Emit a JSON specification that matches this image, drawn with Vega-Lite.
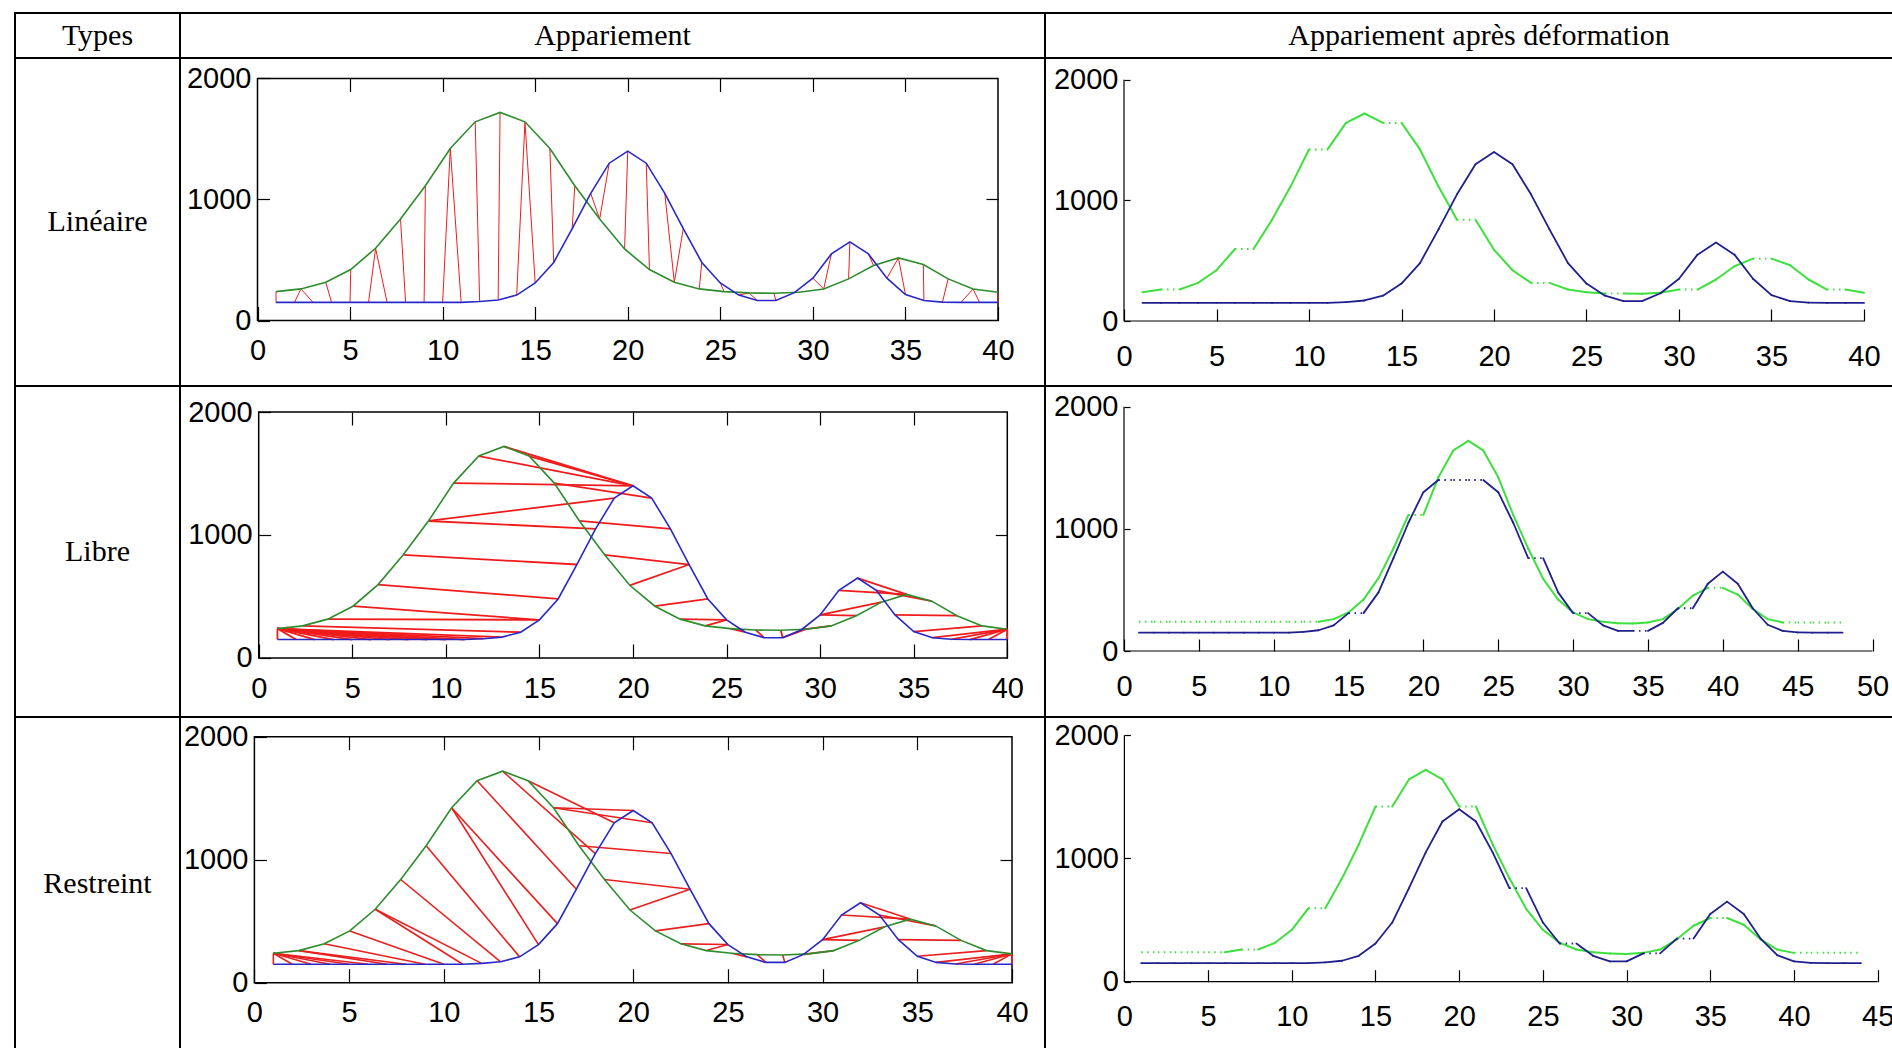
{
  "$schema": "https://vega.github.io/schema/vega-lite/v6.json",
  "padding": {"left": 14, "top": 12, "right": 0, "bottom": 0},
  "bounds": "flush",
  "spacing": 0,
  "columns": 3,
  "config": {
    "view": {"stroke": "black", "strokeWidth": 2},
    "axis": {
      "domain": false,
      "grid": false,
      "tickColor": "black",
      "tickWidth": 1.2,
      "labelFont": "Liberation Sans, Arial, sans-serif",
      "labelFontSize": 29,
      "labelColor": "black",
      "labelOverlap": false,
      "labelFlush": false,
      "labelBound": false
    },
    "text": {"font": "Liberation Serif, Times New Roman, serif", "fontSize": 30, "color": "black"}
  },
  "datasets": {
    "ref": [
      {"g": 1, "x": 1.0, "v": 239}, {"g": 2, "x": 2.345, "v": 261}, {"g": 3, "x": 3.69, "v": 316},
      {"g": 4, "x": 5.034, "v": 421}, {"g": 5, "x": 6.379, "v": 597}, {"g": 6, "x": 7.724, "v": 839},
      {"g": 7, "x": 9.069, "v": 1114}, {"g": 8, "x": 10.414, "v": 1422}, {"g": 9, "x": 11.759, "v": 1642},
      {"g": 10, "x": 13.103, "v": 1720}, {"g": 11, "x": 14.448, "v": 1642}, {"g": 12, "x": 15.793, "v": 1422},
      {"g": 13, "x": 17.138, "v": 1114}, {"g": 14, "x": 18.483, "v": 839}, {"g": 15, "x": 19.828, "v": 591},
      {"g": 16, "x": 21.172, "v": 421}, {"g": 17, "x": 22.517, "v": 316}, {"g": 18, "x": 23.862, "v": 261},
      {"g": 19, "x": 25.207, "v": 239}, {"g": 20, "x": 26.552, "v": 228}, {"g": 21, "x": 27.897, "v": 225},
      {"g": 22, "x": 29.241, "v": 234}, {"g": 23, "x": 30.586, "v": 261}, {"g": 24, "x": 31.931, "v": 344},
      {"g": 25, "x": 33.276, "v": 454}, {"g": 26, "x": 34.621, "v": 517}, {"g": 27, "x": 35.966, "v": 462},
      {"g": 28, "x": 37.31, "v": 344}, {"g": 29, "x": 38.655, "v": 261}, {"g": 30, "x": 40.0, "v": 234}
    ],
    "qry": [
      {"q": 1, "v": 150}, {"q": 2, "v": 150}, {"q": 3, "v": 150}, {"q": 4, "v": 150},
      {"q": 5, "v": 150}, {"q": 6, "v": 150}, {"q": 7, "v": 150}, {"q": 8, "v": 150},
      {"q": 9, "v": 150}, {"q": 10, "v": 150}, {"q": 11, "v": 150}, {"q": 12, "v": 157},
      {"q": 13, "v": 170}, {"q": 14, "v": 210}, {"q": 15, "v": 310}, {"q": 16, "v": 480},
      {"q": 17, "v": 760}, {"q": 18, "v": 1050}, {"q": 19, "v": 1300}, {"q": 20, "v": 1400},
      {"q": 21, "v": 1300}, {"q": 22, "v": 1050}, {"q": 23, "v": 760}, {"q": 24, "v": 480},
      {"q": 25, "v": 310}, {"q": 26, "v": 210}, {"q": 27, "v": 165}, {"q": 28, "v": 165},
      {"q": 29, "v": 230}, {"q": 30, "v": 350}, {"q": 31, "v": 550}, {"q": 32, "v": 650},
      {"q": 33, "v": 550}, {"q": 34, "v": 350}, {"q": 35, "v": 215}, {"q": 36, "v": 165},
      {"q": 37, "v": 152}, {"q": 38, "v": 150}, {"q": 39, "v": 150}, {"q": 40, "v": 150}
    ],
    "paths": [
      {"m": "lin", "k": 1, "g": 1, "q": 1, "gx": 1.0, "gv": 239, "qv": 150},
      {"m": "lin", "k": 2, "g": 2, "q": 2, "gx": 2.345, "gv": 261, "qv": 150},
      {"m": "lin", "k": 3, "g": 2, "q": 3, "gx": 2.345, "gv": 261, "qv": 150},
      {"m": "lin", "k": 4, "g": 3, "q": 4, "gx": 3.69, "gv": 316, "qv": 150},
      {"m": "lin", "k": 5, "g": 4, "q": 5, "gx": 5.034, "gv": 421, "qv": 150},
      {"m": "lin", "k": 6, "g": 5, "q": 6, "gx": 6.379, "gv": 597, "qv": 150},
      {"m": "lin", "k": 7, "g": 5, "q": 7, "gx": 6.379, "gv": 597, "qv": 150},
      {"m": "lin", "k": 8, "g": 6, "q": 8, "gx": 7.724, "gv": 839, "qv": 150},
      {"m": "lin", "k": 9, "g": 7, "q": 9, "gx": 9.069, "gv": 1114, "qv": 150},
      {"m": "lin", "k": 10, "g": 8, "q": 10, "gx": 10.414, "gv": 1422, "qv": 150},
      {"m": "lin", "k": 11, "g": 8, "q": 11, "gx": 10.414, "gv": 1422, "qv": 150},
      {"m": "lin", "k": 12, "g": 9, "q": 12, "gx": 11.759, "gv": 1642, "qv": 157},
      {"m": "lin", "k": 13, "g": 10, "q": 13, "gx": 13.103, "gv": 1720, "qv": 170},
      {"m": "lin", "k": 14, "g": 11, "q": 14, "gx": 14.448, "gv": 1642, "qv": 210},
      {"m": "lin", "k": 15, "g": 11, "q": 15, "gx": 14.448, "gv": 1642, "qv": 310},
      {"m": "lin", "k": 16, "g": 12, "q": 16, "gx": 15.793, "gv": 1422, "qv": 480},
      {"m": "lin", "k": 17, "g": 13, "q": 17, "gx": 17.138, "gv": 1114, "qv": 760},
      {"m": "lin", "k": 18, "g": 14, "q": 18, "gx": 18.483, "gv": 839, "qv": 1050},
      {"m": "lin", "k": 19, "g": 14, "q": 19, "gx": 18.483, "gv": 839, "qv": 1300},
      {"m": "lin", "k": 20, "g": 15, "q": 20, "gx": 19.828, "gv": 591, "qv": 1400},
      {"m": "lin", "k": 21, "g": 16, "q": 21, "gx": 21.172, "gv": 421, "qv": 1300},
      {"m": "lin", "k": 22, "g": 17, "q": 22, "gx": 22.517, "gv": 316, "qv": 1050},
      {"m": "lin", "k": 23, "g": 17, "q": 23, "gx": 22.517, "gv": 316, "qv": 760},
      {"m": "lin", "k": 24, "g": 18, "q": 24, "gx": 23.862, "gv": 261, "qv": 480},
      {"m": "lin", "k": 25, "g": 19, "q": 25, "gx": 25.207, "gv": 239, "qv": 310},
      {"m": "lin", "k": 26, "g": 20, "q": 26, "gx": 26.552, "gv": 228, "qv": 210},
      {"m": "lin", "k": 27, "g": 20, "q": 27, "gx": 26.552, "gv": 228, "qv": 165},
      {"m": "lin", "k": 28, "g": 21, "q": 28, "gx": 27.897, "gv": 225, "qv": 165},
      {"m": "lin", "k": 29, "g": 22, "q": 29, "gx": 29.241, "gv": 234, "qv": 230},
      {"m": "lin", "k": 30, "g": 23, "q": 30, "gx": 30.586, "gv": 261, "qv": 350},
      {"m": "lin", "k": 31, "g": 23, "q": 31, "gx": 30.586, "gv": 261, "qv": 550},
      {"m": "lin", "k": 32, "g": 24, "q": 32, "gx": 31.931, "gv": 344, "qv": 650},
      {"m": "lin", "k": 33, "g": 25, "q": 33, "gx": 33.276, "gv": 454, "qv": 550},
      {"m": "lin", "k": 34, "g": 26, "q": 34, "gx": 34.621, "gv": 517, "qv": 350},
      {"m": "lin", "k": 35, "g": 26, "q": 35, "gx": 34.621, "gv": 517, "qv": 215},
      {"m": "lin", "k": 36, "g": 27, "q": 36, "gx": 35.966, "gv": 462, "qv": 165},
      {"m": "lin", "k": 37, "g": 28, "q": 37, "gx": 37.31, "gv": 344, "qv": 152},
      {"m": "lin", "k": 38, "g": 29, "q": 38, "gx": 38.655, "gv": 261, "qv": 150},
      {"m": "lin", "k": 39, "g": 29, "q": 39, "gx": 38.655, "gv": 261, "qv": 150},
      {"m": "lin", "k": 40, "g": 30, "q": 40, "gx": 40.0, "gv": 234, "qv": 150},

      {"m": "lib", "k": 1, "g": 1, "q": 1, "gx": 1.0, "gv": 239, "qv": 150},
      {"m": "lib", "k": 2, "g": 1, "q": 2, "gx": 1.0, "gv": 239, "qv": 150},
      {"m": "lib", "k": 3, "g": 1, "q": 3, "gx": 1.0, "gv": 239, "qv": 150},
      {"m": "lib", "k": 4, "g": 1, "q": 4, "gx": 1.0, "gv": 239, "qv": 150},
      {"m": "lib", "k": 5, "g": 1, "q": 5, "gx": 1.0, "gv": 239, "qv": 150},
      {"m": "lib", "k": 6, "g": 1, "q": 6, "gx": 1.0, "gv": 239, "qv": 150},
      {"m": "lib", "k": 7, "g": 1, "q": 7, "gx": 1.0, "gv": 239, "qv": 150},
      {"m": "lib", "k": 8, "g": 1, "q": 8, "gx": 1.0, "gv": 239, "qv": 150},
      {"m": "lib", "k": 9, "g": 1, "q": 9, "gx": 1.0, "gv": 239, "qv": 150},
      {"m": "lib", "k": 10, "g": 1, "q": 10, "gx": 1.0, "gv": 239, "qv": 150},
      {"m": "lib", "k": 11, "g": 1, "q": 11, "gx": 1.0, "gv": 239, "qv": 150},
      {"m": "lib", "k": 12, "g": 1, "q": 12, "gx": 1.0, "gv": 239, "qv": 157},
      {"m": "lib", "k": 13, "g": 1, "q": 13, "gx": 1.0, "gv": 239, "qv": 170},
      {"m": "lib", "k": 14, "g": 2, "q": 14, "gx": 2.345, "gv": 261, "qv": 210},
      {"m": "lib", "k": 15, "g": 3, "q": 15, "gx": 3.69, "gv": 316, "qv": 310},
      {"m": "lib", "k": 16, "g": 4, "q": 15, "gx": 5.034, "gv": 421, "qv": 310},
      {"m": "lib", "k": 17, "g": 5, "q": 16, "gx": 6.379, "gv": 597, "qv": 480},
      {"m": "lib", "k": 18, "g": 6, "q": 17, "gx": 7.724, "gv": 839, "qv": 760},
      {"m": "lib", "k": 19, "g": 7, "q": 18, "gx": 9.069, "gv": 1114, "qv": 1050},
      {"m": "lib", "k": 20, "g": 7, "q": 19, "gx": 9.069, "gv": 1114, "qv": 1300},
      {"m": "lib", "k": 21, "g": 8, "q": 20, "gx": 10.414, "gv": 1422, "qv": 1400},
      {"m": "lib", "k": 22, "g": 9, "q": 20, "gx": 11.759, "gv": 1642, "qv": 1400},
      {"m": "lib", "k": 23, "g": 10, "q": 20, "gx": 13.103, "gv": 1720, "qv": 1400},
      {"m": "lib", "k": 24, "g": 11, "q": 20, "gx": 14.448, "gv": 1642, "qv": 1400},
      {"m": "lib", "k": 25, "g": 12, "q": 21, "gx": 15.793, "gv": 1422, "qv": 1300},
      {"m": "lib", "k": 26, "g": 13, "q": 22, "gx": 17.138, "gv": 1114, "qv": 1050},
      {"m": "lib", "k": 27, "g": 14, "q": 23, "gx": 18.483, "gv": 839, "qv": 760},
      {"m": "lib", "k": 28, "g": 15, "q": 23, "gx": 19.828, "gv": 591, "qv": 760},
      {"m": "lib", "k": 29, "g": 16, "q": 24, "gx": 21.172, "gv": 421, "qv": 480},
      {"m": "lib", "k": 30, "g": 17, "q": 25, "gx": 22.517, "gv": 316, "qv": 310},
      {"m": "lib", "k": 31, "g": 18, "q": 25, "gx": 23.862, "gv": 261, "qv": 310},
      {"m": "lib", "k": 32, "g": 19, "q": 26, "gx": 25.207, "gv": 239, "qv": 210},
      {"m": "lib", "k": 33, "g": 20, "q": 27, "gx": 26.552, "gv": 228, "qv": 165},
      {"m": "lib", "k": 34, "g": 21, "q": 28, "gx": 27.897, "gv": 225, "qv": 165},
      {"m": "lib", "k": 35, "g": 22, "q": 28, "gx": 29.241, "gv": 234, "qv": 165},
      {"m": "lib", "k": 36, "g": 23, "q": 29, "gx": 30.586, "gv": 261, "qv": 230},
      {"m": "lib", "k": 37, "g": 24, "q": 30, "gx": 31.931, "gv": 344, "qv": 350},
      {"m": "lib", "k": 38, "g": 25, "q": 30, "gx": 33.276, "gv": 454, "qv": 350},
      {"m": "lib", "k": 39, "g": 26, "q": 31, "gx": 34.621, "gv": 517, "qv": 550},
      {"m": "lib", "k": 40, "g": 26, "q": 32, "gx": 34.621, "gv": 517, "qv": 650},
      {"m": "lib", "k": 41, "g": 27, "q": 33, "gx": 35.966, "gv": 462, "qv": 550},
      {"m": "lib", "k": 42, "g": 28, "q": 34, "gx": 37.31, "gv": 344, "qv": 350},
      {"m": "lib", "k": 43, "g": 29, "q": 35, "gx": 38.655, "gv": 261, "qv": 215},
      {"m": "lib", "k": 44, "g": 30, "q": 36, "gx": 40.0, "gv": 234, "qv": 165},
      {"m": "lib", "k": 45, "g": 30, "q": 37, "gx": 40.0, "gv": 234, "qv": 152},
      {"m": "lib", "k": 46, "g": 30, "q": 38, "gx": 40.0, "gv": 234, "qv": 150},
      {"m": "lib", "k": 47, "g": 30, "q": 39, "gx": 40.0, "gv": 234, "qv": 150},
      {"m": "lib", "k": 48, "g": 30, "q": 40, "gx": 40.0, "gv": 234, "qv": 150},

      {"m": "res", "k": 1, "g": 1, "q": 1, "gx": 1.0, "gv": 239, "qv": 150},
      {"m": "res", "k": 2, "g": 1, "q": 2, "gx": 1.0, "gv": 239, "qv": 150},
      {"m": "res", "k": 3, "g": 1, "q": 3, "gx": 1.0, "gv": 239, "qv": 150},
      {"m": "res", "k": 4, "g": 1, "q": 4, "gx": 1.0, "gv": 239, "qv": 150},
      {"m": "res", "k": 5, "g": 1, "q": 5, "gx": 1.0, "gv": 239, "qv": 150},
      {"m": "res", "k": 6, "g": 1, "q": 6, "gx": 1.0, "gv": 239, "qv": 150},
      {"m": "res", "k": 7, "g": 2, "q": 7, "gx": 2.345, "gv": 261, "qv": 150},
      {"m": "res", "k": 8, "g": 2, "q": 8, "gx": 2.345, "gv": 261, "qv": 150},
      {"m": "res", "k": 9, "g": 3, "q": 9, "gx": 3.69, "gv": 316, "qv": 150},
      {"m": "res", "k": 10, "g": 4, "q": 10, "gx": 5.034, "gv": 421, "qv": 150},
      {"m": "res", "k": 11, "g": 5, "q": 11, "gx": 6.379, "gv": 597, "qv": 150},
      {"m": "res", "k": 12, "g": 5, "q": 12, "gx": 6.379, "gv": 597, "qv": 157},
      {"m": "res", "k": 13, "g": 6, "q": 13, "gx": 7.724, "gv": 839, "qv": 170},
      {"m": "res", "k": 14, "g": 7, "q": 14, "gx": 9.069, "gv": 1114, "qv": 210},
      {"m": "res", "k": 15, "g": 8, "q": 15, "gx": 10.414, "gv": 1422, "qv": 310},
      {"m": "res", "k": 16, "g": 8, "q": 16, "gx": 10.414, "gv": 1422, "qv": 480},
      {"m": "res", "k": 17, "g": 9, "q": 17, "gx": 11.759, "gv": 1642, "qv": 760},
      {"m": "res", "k": 18, "g": 10, "q": 18, "gx": 13.103, "gv": 1720, "qv": 1050},
      {"m": "res", "k": 19, "g": 11, "q": 19, "gx": 14.448, "gv": 1642, "qv": 1300},
      {"m": "res", "k": 20, "g": 12, "q": 20, "gx": 15.793, "gv": 1422, "qv": 1400},
      {"m": "res", "k": 21, "g": 12, "q": 21, "gx": 15.793, "gv": 1422, "qv": 1300},
      {"m": "res", "k": 22, "g": 13, "q": 22, "gx": 17.138, "gv": 1114, "qv": 1050},
      {"m": "res", "k": 23, "g": 14, "q": 23, "gx": 18.483, "gv": 839, "qv": 760},
      {"m": "res", "k": 24, "g": 15, "q": 23, "gx": 19.828, "gv": 591, "qv": 760},
      {"m": "res", "k": 25, "g": 16, "q": 24, "gx": 21.172, "gv": 421, "qv": 480},
      {"m": "res", "k": 26, "g": 17, "q": 25, "gx": 22.517, "gv": 316, "qv": 310},
      {"m": "res", "k": 27, "g": 18, "q": 25, "gx": 23.862, "gv": 261, "qv": 310},
      {"m": "res", "k": 28, "g": 19, "q": 26, "gx": 25.207, "gv": 239, "qv": 210},
      {"m": "res", "k": 29, "g": 20, "q": 27, "gx": 26.552, "gv": 228, "qv": 165},
      {"m": "res", "k": 30, "g": 21, "q": 28, "gx": 27.897, "gv": 225, "qv": 165},
      {"m": "res", "k": 31, "g": 22, "q": 29, "gx": 29.241, "gv": 234, "qv": 230},
      {"m": "res", "k": 32, "g": 23, "q": 29, "gx": 30.586, "gv": 261, "qv": 230},
      {"m": "res", "k": 33, "g": 24, "q": 30, "gx": 31.931, "gv": 344, "qv": 350},
      {"m": "res", "k": 34, "g": 25, "q": 30, "gx": 33.276, "gv": 454, "qv": 350},
      {"m": "res", "k": 35, "g": 26, "q": 31, "gx": 34.621, "gv": 517, "qv": 550},
      {"m": "res", "k": 36, "g": 26, "q": 32, "gx": 34.621, "gv": 517, "qv": 650},
      {"m": "res", "k": 37, "g": 27, "q": 33, "gx": 35.966, "gv": 462, "qv": 550},
      {"m": "res", "k": 38, "g": 28, "q": 34, "gx": 37.31, "gv": 344, "qv": 350},
      {"m": "res", "k": 39, "g": 29, "q": 35, "gx": 38.655, "gv": 261, "qv": 215},
      {"m": "res", "k": 40, "g": 30, "q": 36, "gx": 40.0, "gv": 234, "qv": 165},
      {"m": "res", "k": 41, "g": 30, "q": 37, "gx": 40.0, "gv": 234, "qv": 152},
      {"m": "res", "k": 42, "g": 30, "q": 38, "gx": 40.0, "gv": 234, "qv": 150},
      {"m": "res", "k": 43, "g": 30, "q": 39, "gx": 40.0, "gv": 234, "qv": 150},
      {"m": "res", "k": 44, "g": 30, "q": 40, "gx": 40.0, "gv": 234, "qv": 150}
    ]
  },
  "concat": [
    {"width": 165, "height": 45, "data": {"values": [{"t": "Types"}]}, "mark": {"type": "text"},
     "encoding": {"text": {"field": "t"}, "x": {"datum": 0, "type": "quantitative", "scale": {"domain": [-1, 1]}, "axis": null}, "y": {"datum": 0, "type": "quantitative", "scale": {"domain": [-1, 1]}, "axis": null}}},
    {"width": 865, "height": 45, "data": {"values": [{"t": "Appariement"}]}, "mark": {"type": "text"},
     "encoding": {"text": {"field": "t"}, "x": {"datum": 0, "type": "quantitative", "scale": {"domain": [-1, 1]}, "axis": null}, "y": {"datum": 0, "type": "quantitative", "scale": {"domain": [-1, 1]}, "axis": null}}},
    {"width": 850, "height": 45, "data": {"values": [{"t": "Appariement après déformation"}]}, "mark": {"type": "text", "dx": 9},
     "encoding": {"text": {"field": "t"}, "x": {"datum": 0, "type": "quantitative", "scale": {"domain": [-1, 1]}, "axis": null}, "y": {"datum": 0, "type": "quantitative", "scale": {"domain": [-1, 1]}, "axis": null}}},

    {"width": 165, "height": 328, "data": {"values": [{"t": "Linéaire"}]}, "mark": {"type": "text"},
     "encoding": {"text": {"field": "t"}, "x": {"datum": 0, "type": "quantitative", "scale": {"domain": [-1, 1]}, "axis": null}, "y": {"datum": 0, "type": "quantitative", "scale": {"domain": [-1, 1]}, "axis": null}}},
    {
      "width": 865, "height": 328,
      "resolve": {"axis": {"x": "independent", "y": "independent"}},
      "layer": [
        {
          "data": {"values": [{"a": 0}]},
          "mark": {"type": "rect", "filled": false, "color": "black", "strokeWidth": 1.5},
          "encoding": {
            "x": {"datum": 0, "type": "quantitative", "scale": {"domain": [-4.1864, 42.5389], "nice": false, "zero": false},
                  "axis": {"orient": "bottom", "offset": -65.5, "values": [0, 5, 10, 15, 20, 25, 30, 35, 40], "format": "d", "tickSize": -14, "labelPadding": 30, "title": null}},
            "x2": {"datum": 40},
            "y": {"datum": 0, "type": "quantitative", "scale": {"domain": [-541.3, 2169.4], "nice": false, "zero": false},
                  "axis": {"orient": "left", "offset": -77.5, "values": [0, 1000, 2000], "format": "d", "tickSize": -12, "labelPadding": 18.5, "title": null}},
            "y2": {"datum": 2000}
          }
        },
        {
          "data": {"name": "paths"},
          "transform": [{"filter": "datum.m == 'lin'"}],
          "mark": {"type": "rule", "color": "#f01c1c", "strokeWidth": 1},
          "encoding": {
            "x": {"field": "gx", "type": "quantitative", "axis": null},
            "x2": {"field": "q"},
            "y": {"field": "gv", "type": "quantitative", "axis": null},
            "y2": {"field": "qv"}
          }
        },
        {
          "data": {"name": "ref"},
          "mark": {"type": "line", "color": "#2d8c2d", "strokeWidth": 1.6},
          "encoding": {
            "x": {"field": "x", "type": "quantitative", "axis": {"orient": "top", "offset": -20.5, "values": [5, 10, 15, 20, 25, 30, 35], "labels": false, "tickSize": -13, "title": null}},
            "y": {"field": "v", "type": "quantitative", "axis": {"orient": "right", "offset": -47, "values": [1000], "labels": false, "tickSize": -12, "title": null}}
          }
        },
        {
          "data": {"name": "qry"},
          "mark": {"type": "line", "color": "#2828c8", "strokeWidth": 1.6},
          "encoding": {
            "x": {"field": "q", "type": "quantitative", "axis": null},
            "y": {"field": "v", "type": "quantitative", "axis": null}
          }
        }
      ]
    },
    {
      "width": 850, "height": 328,
      "resolve": {"axis": {"x": "independent", "y": "independent"}},
      "layer": [
        {
          "data": {"values": [{"a": 0}]},
          "mark": {"type": "rule", "color": "black", "strokeWidth": 1.2},
          "encoding": {
            "x": {"datum": 0, "type": "quantitative", "scale": {"domain": [-4.2703, 41.6757], "nice": false, "zero": false},
                  "axis": {"orient": "bottom", "offset": -65, "values": [0, 5, 10, 15, 20, 25, 30, 35, 40], "format": "d", "tickSize": -12, "labelPadding": 33, "title": null}},
            "y": {"datum": 0, "type": "quantitative", "scale": {"domain": [-538.7, 2179.9], "nice": false, "zero": false},
                  "axis": {"orient": "left", "offset": -79, "values": [0, 1000, 2000], "format": "d", "tickSize": -6, "labelPadding": 12, "title": null}},
            "y2": {"datum": 2000}
          }
        },
        {
          "data": {"values": [{"a": 0}]},
          "mark": {"type": "rule", "color": "black", "strokeWidth": 1.2},
          "encoding": {
            "x": {"datum": 0, "type": "quantitative", "axis": null},
            "x2": {"datum": 40},
            "y": {"datum": 0, "type": "quantitative", "axis": null}
          }
        },
        {
          "data": {"name": "paths"},
          "transform": [
            {"filter": "datum.m == 'lin'"},
            {"window": [{"op": "lead", "field": "k", "as": "k2"}, {"op": "lead", "field": "g", "as": "g2"}, {"op": "lead", "field": "q", "as": "q2"}, {"op": "lead", "field": "gv", "as": "gv2"}, {"op": "lead", "field": "qv", "as": "qv2"}], "sort": [{"field": "k", "order": "ascending"}]},
            {"filter": "datum.k2 != null"}
          ],
          "layer": [
            {
              "transform": [{"filter": "datum.g != datum.g2"}],
              "mark": {"type": "rule", "color": "#3ee03e", "strokeWidth": 2, "strokeCap": "round"},
              "encoding": {"x": {"field": "k", "type": "quantitative", "axis": null}, "x2": {"field": "k2"}, "y": {"field": "gv", "type": "quantitative", "axis": null}, "y2": {"field": "gv2"}}
            },
            {
              "transform": [{"filter": "datum.g == datum.g2"}],
              "mark": {"type": "rule", "color": "#3ee03e", "strokeWidth": 2, "strokeDash": [1.5, 4.5]},
              "encoding": {"x": {"field": "k", "type": "quantitative", "axis": null}, "x2": {"field": "k2"}, "y": {"field": "gv", "type": "quantitative", "axis": null}, "y2": {"field": "gv2"}}
            },
            {
              "transform": [{"filter": "datum.q != datum.q2"}],
              "mark": {"type": "rule", "color": "#20208c", "strokeWidth": 1.8, "strokeCap": "round"},
              "encoding": {"x": {"field": "k", "type": "quantitative", "axis": null}, "x2": {"field": "k2"}, "y": {"field": "qv", "type": "quantitative", "axis": null}, "y2": {"field": "qv2"}}
            },
            {
              "transform": [{"filter": "datum.q == datum.q2"}],
              "mark": {"type": "rule", "color": "#20208c", "strokeWidth": 1.8, "strokeDash": [1.5, 4.5]},
              "encoding": {"x": {"field": "k", "type": "quantitative", "axis": null}, "x2": {"field": "k2"}, "y": {"field": "qv", "type": "quantitative", "axis": null}, "y2": {"field": "qv2"}}
            }
          ]
        }
      ]
    },

    {"width": 165, "height": 331, "data": {"values": [{"t": "Libre"}]}, "mark": {"type": "text"},
     "encoding": {"text": {"field": "t"}, "x": {"datum": 0, "type": "quantitative", "scale": {"domain": [-1, 1]}, "axis": null}, "y": {"datum": 0, "type": "quantitative", "scale": {"domain": [-1, 1]}, "axis": null}}},
    {
      "width": 865, "height": 331,
      "resolve": {"axis": {"x": "independent", "y": "independent"}},
      "layer": [
        {
          "data": {"values": [{"a": 0}]},
          "mark": {"type": "rect", "filled": false, "color": "black", "strokeWidth": 1.5},
          "encoding": {
            "x": {"datum": 0, "type": "quantitative", "scale": {"domain": [-4.2052, 42.0144], "nice": false, "zero": false},
                  "axis": {"orient": "bottom", "offset": -59, "values": [0, 5, 10, 15, 20, 25, 30, 35, 40], "format": "d", "tickSize": -14, "labelPadding": 30, "title": null}},
            "x2": {"datum": 40},
            "y": {"datum": 0, "type": "quantitative", "scale": {"domain": [-479.7, 2211.4], "nice": false, "zero": false},
                  "axis": {"orient": "left", "offset": -78.7, "values": [0, 1000, 2000], "format": "d", "tickSize": -12, "labelPadding": 18.5, "title": null}},
            "y2": {"datum": 2000}
          }
        },
        {
          "data": {"name": "paths"},
          "transform": [{"filter": "datum.m == 'lib'"}],
          "mark": {"type": "rule", "color": "#f01c1c", "strokeWidth": 1.8},
          "encoding": {
            "x": {"field": "gx", "type": "quantitative", "axis": null},
            "x2": {"field": "q"},
            "y": {"field": "gv", "type": "quantitative", "axis": null},
            "y2": {"field": "qv"}
          }
        },
        {
          "data": {"name": "ref"},
          "mark": {"type": "line", "color": "#2d8c2d", "strokeWidth": 1.6},
          "encoding": {
            "x": {"field": "x", "type": "quantitative", "axis": {"orient": "top", "offset": -26, "values": [5, 10, 15, 20, 25, 30, 35], "labels": false, "tickSize": -13, "title": null}},
            "y": {"field": "v", "type": "quantitative", "axis": {"orient": "right", "offset": -37.7, "values": [1000], "labels": false, "tickSize": -12, "title": null}}
          }
        },
        {
          "data": {"name": "qry"},
          "mark": {"type": "line", "color": "#2828c8", "strokeWidth": 1.6},
          "encoding": {
            "x": {"field": "q", "type": "quantitative", "axis": null},
            "y": {"field": "v", "type": "quantitative", "axis": null}
          }
        }
      ]
    },
    {
      "width": 850, "height": 331,
      "resolve": {"axis": {"x": "independent", "y": "independent"}},
      "layer": [
        {
          "data": {"values": [{"a": 0}]},
          "mark": {"type": "rule", "color": "black", "strokeWidth": 1.2},
          "encoding": {
            "x": {"datum": 0, "type": "quantitative", "scale": {"domain": [-5.277, 51.503], "nice": false, "zero": false},
                  "axis": {"orient": "bottom", "offset": -66, "values": [0, 5, 10, 15, 20, 25, 30, 35, 40, 45, 50], "format": "d", "tickSize": -12, "labelPadding": 33, "title": null}},
            "y": {"datum": 0, "type": "quantitative", "scale": {"domain": [-540.3, 2169.5], "nice": false, "zero": false},
                  "axis": {"orient": "left", "offset": -79, "values": [0, 1000, 2000], "format": "d", "tickSize": -6, "labelPadding": 12, "title": null}},
            "y2": {"datum": 2000}
          }
        },
        {
          "data": {"values": [{"a": 0}]},
          "mark": {"type": "rule", "color": "black", "strokeWidth": 1.2},
          "encoding": {
            "x": {"datum": 0, "type": "quantitative", "axis": null},
            "x2": {"datum": 50},
            "y": {"datum": 0, "type": "quantitative", "axis": null}
          }
        },
        {
          "data": {"name": "paths"},
          "transform": [
            {"filter": "datum.m == 'lib'"},
            {"window": [{"op": "lead", "field": "k", "as": "k2"}, {"op": "lead", "field": "g", "as": "g2"}, {"op": "lead", "field": "q", "as": "q2"}, {"op": "lead", "field": "gv", "as": "gv2"}, {"op": "lead", "field": "qv", "as": "qv2"}], "sort": [{"field": "k", "order": "ascending"}]},
            {"filter": "datum.k2 != null"}
          ],
          "layer": [
            {
              "transform": [{"filter": "datum.g != datum.g2"}],
              "mark": {"type": "rule", "color": "#3ee03e", "strokeWidth": 2, "strokeCap": "round"},
              "encoding": {"x": {"field": "k", "type": "quantitative", "axis": null}, "x2": {"field": "k2"}, "y": {"field": "gv", "type": "quantitative", "axis": null}, "y2": {"field": "gv2"}}
            },
            {
              "transform": [{"filter": "datum.g == datum.g2"}],
              "mark": {"type": "rule", "color": "#3ee03e", "strokeWidth": 2, "strokeDash": [1.5, 4.5]},
              "encoding": {"x": {"field": "k", "type": "quantitative", "axis": null}, "x2": {"field": "k2"}, "y": {"field": "gv", "type": "quantitative", "axis": null}, "y2": {"field": "gv2"}}
            },
            {
              "transform": [{"filter": "datum.q != datum.q2"}],
              "mark": {"type": "rule", "color": "#20208c", "strokeWidth": 1.8, "strokeCap": "round"},
              "encoding": {"x": {"field": "k", "type": "quantitative", "axis": null}, "x2": {"field": "k2"}, "y": {"field": "qv", "type": "quantitative", "axis": null}, "y2": {"field": "qv2"}}
            },
            {
              "transform": [{"filter": "datum.q == datum.q2"}],
              "mark": {"type": "rule", "color": "#20208c", "strokeWidth": 1.8, "strokeDash": [1.5, 4.5]},
              "encoding": {"x": {"field": "k", "type": "quantitative", "axis": null}, "x2": {"field": "k2"}, "y": {"field": "qv", "type": "quantitative", "axis": null}, "y2": {"field": "qv2"}}
            }
          ]
        }
      ]
    },

    {"width": 165, "height": 334, "data": {"values": [{"t": "Restreint"}]}, "mark": {"type": "text"},
     "encoding": {"text": {"field": "t"}, "x": {"datum": 0, "type": "quantitative", "scale": {"domain": [-1, 1]}, "axis": null}, "y": {"datum": 0, "type": "quantitative", "scale": {"domain": [-1, 1]}, "axis": null}}},
    {
      "width": 865, "height": 334,
      "resolve": {"axis": {"x": "independent", "y": "independent"}},
      "layer": [
        {
          "data": {"values": [{"a": 0}]},
          "mark": {"type": "rect", "filled": false, "color": "black", "strokeWidth": 1.5},
          "encoding": {
            "x": {"datum": 0, "type": "quantitative", "scale": {"domain": [-3.928, 41.742], "nice": false, "zero": false},
                  "axis": {"orient": "bottom", "offset": -68.3, "values": [0, 5, 10, 15, 20, 25, 30, 35, 40], "format": "d", "tickSize": -14, "labelPadding": 30, "title": null}},
            "x2": {"datum": 40},
            "y": {"datum": 0, "type": "quantitative", "scale": {"domain": [-555.3, 2160.2], "nice": false, "zero": false},
                  "axis": {"orient": "left", "offset": -74.4, "values": [0, 1000, 2000], "format": "d", "tickSize": -12, "labelPadding": 18.5, "title": null}},
            "y2": {"datum": 2000}
          }
        },
        {
          "data": {"name": "paths"},
          "transform": [{"filter": "datum.m == 'res'"}],
          "mark": {"type": "rule", "color": "#e82020", "strokeWidth": 1.6},
          "encoding": {
            "x": {"field": "gx", "type": "quantitative", "axis": null},
            "x2": {"field": "q"},
            "y": {"field": "gv", "type": "quantitative", "axis": null},
            "y2": {"field": "qv"}
          }
        },
        {
          "data": {"name": "ref"},
          "mark": {"type": "line", "color": "#2d8c2d", "strokeWidth": 1.6},
          "encoding": {
            "x": {"field": "x", "type": "quantitative", "axis": {"orient": "top", "offset": -19.7, "values": [5, 10, 15, 20, 25, 30, 35], "labels": false, "tickSize": -13, "title": null}},
            "y": {"field": "v", "type": "quantitative", "axis": {"orient": "right", "offset": -33, "values": [1000], "labels": false, "tickSize": -12, "title": null}}
          }
        },
        {
          "data": {"name": "qry"},
          "mark": {"type": "line", "color": "#2828c8", "strokeWidth": 1.6},
          "encoding": {
            "x": {"field": "q", "type": "quantitative", "axis": null},
            "y": {"field": "v", "type": "quantitative", "axis": null}
          }
        }
      ]
    },
    {
      "width": 850, "height": 334,
      "resolve": {"axis": {"x": "independent", "y": "independent"}},
      "layer": [
        {
          "data": {"values": [{"a": 0}]},
          "mark": {"type": "rule", "color": "black", "strokeWidth": 1.2},
          "encoding": {
            "x": {"datum": 0, "type": "quantitative", "scale": {"domain": [-4.743, 46.0335], "nice": false, "zero": false},
                  "axis": {"orient": "bottom", "offset": -69.3, "values": [0, 5, 10, 15, 20, 25, 30, 35, 40, 45], "format": "d", "tickSize": -12, "labelPadding": 33, "title": null}},
            "y": {"datum": 0, "type": "quantitative", "scale": {"domain": [-562.5, 2148.5], "nice": false, "zero": false},
                  "axis": {"orient": "left", "offset": -79.4, "values": [0, 1000, 2000], "format": "d", "tickSize": -6, "labelPadding": 12, "title": null}},
            "y2": {"datum": 2000}
          }
        },
        {
          "data": {"values": [{"a": 0}]},
          "mark": {"type": "rule", "color": "black", "strokeWidth": 1.2},
          "encoding": {
            "x": {"datum": 0, "type": "quantitative", "axis": null},
            "x2": {"datum": 45},
            "y": {"datum": 0, "type": "quantitative", "axis": null}
          }
        },
        {
          "data": {"name": "paths"},
          "transform": [
            {"filter": "datum.m == 'res'"},
            {"window": [{"op": "lead", "field": "k", "as": "k2"}, {"op": "lead", "field": "g", "as": "g2"}, {"op": "lead", "field": "q", "as": "q2"}, {"op": "lead", "field": "gv", "as": "gv2"}, {"op": "lead", "field": "qv", "as": "qv2"}], "sort": [{"field": "k", "order": "ascending"}]},
            {"filter": "datum.k2 != null"}
          ],
          "layer": [
            {
              "transform": [{"filter": "datum.g != datum.g2"}],
              "mark": {"type": "rule", "color": "#3ee03e", "strokeWidth": 2, "strokeCap": "round"},
              "encoding": {"x": {"field": "k", "type": "quantitative", "axis": null}, "x2": {"field": "k2"}, "y": {"field": "gv", "type": "quantitative", "axis": null}, "y2": {"field": "gv2"}}
            },
            {
              "transform": [{"filter": "datum.g == datum.g2"}],
              "mark": {"type": "rule", "color": "#3ee03e", "strokeWidth": 2, "strokeDash": [1.5, 4.5]},
              "encoding": {"x": {"field": "k", "type": "quantitative", "axis": null}, "x2": {"field": "k2"}, "y": {"field": "gv", "type": "quantitative", "axis": null}, "y2": {"field": "gv2"}}
            },
            {
              "transform": [{"filter": "datum.q != datum.q2"}],
              "mark": {"type": "rule", "color": "#20208c", "strokeWidth": 1.8, "strokeCap": "round"},
              "encoding": {"x": {"field": "k", "type": "quantitative", "axis": null}, "x2": {"field": "k2"}, "y": {"field": "qv", "type": "quantitative", "axis": null}, "y2": {"field": "qv2"}}
            },
            {
              "transform": [{"filter": "datum.q == datum.q2"}],
              "mark": {"type": "rule", "color": "#20208c", "strokeWidth": 1.8, "strokeDash": [1.5, 4.5]},
              "encoding": {"x": {"field": "k", "type": "quantitative", "axis": null}, "x2": {"field": "k2"}, "y": {"field": "qv", "type": "quantitative", "axis": null}, "y2": {"field": "qv2"}}
            }
          ]
        }
      ]
    }
  ]
}
